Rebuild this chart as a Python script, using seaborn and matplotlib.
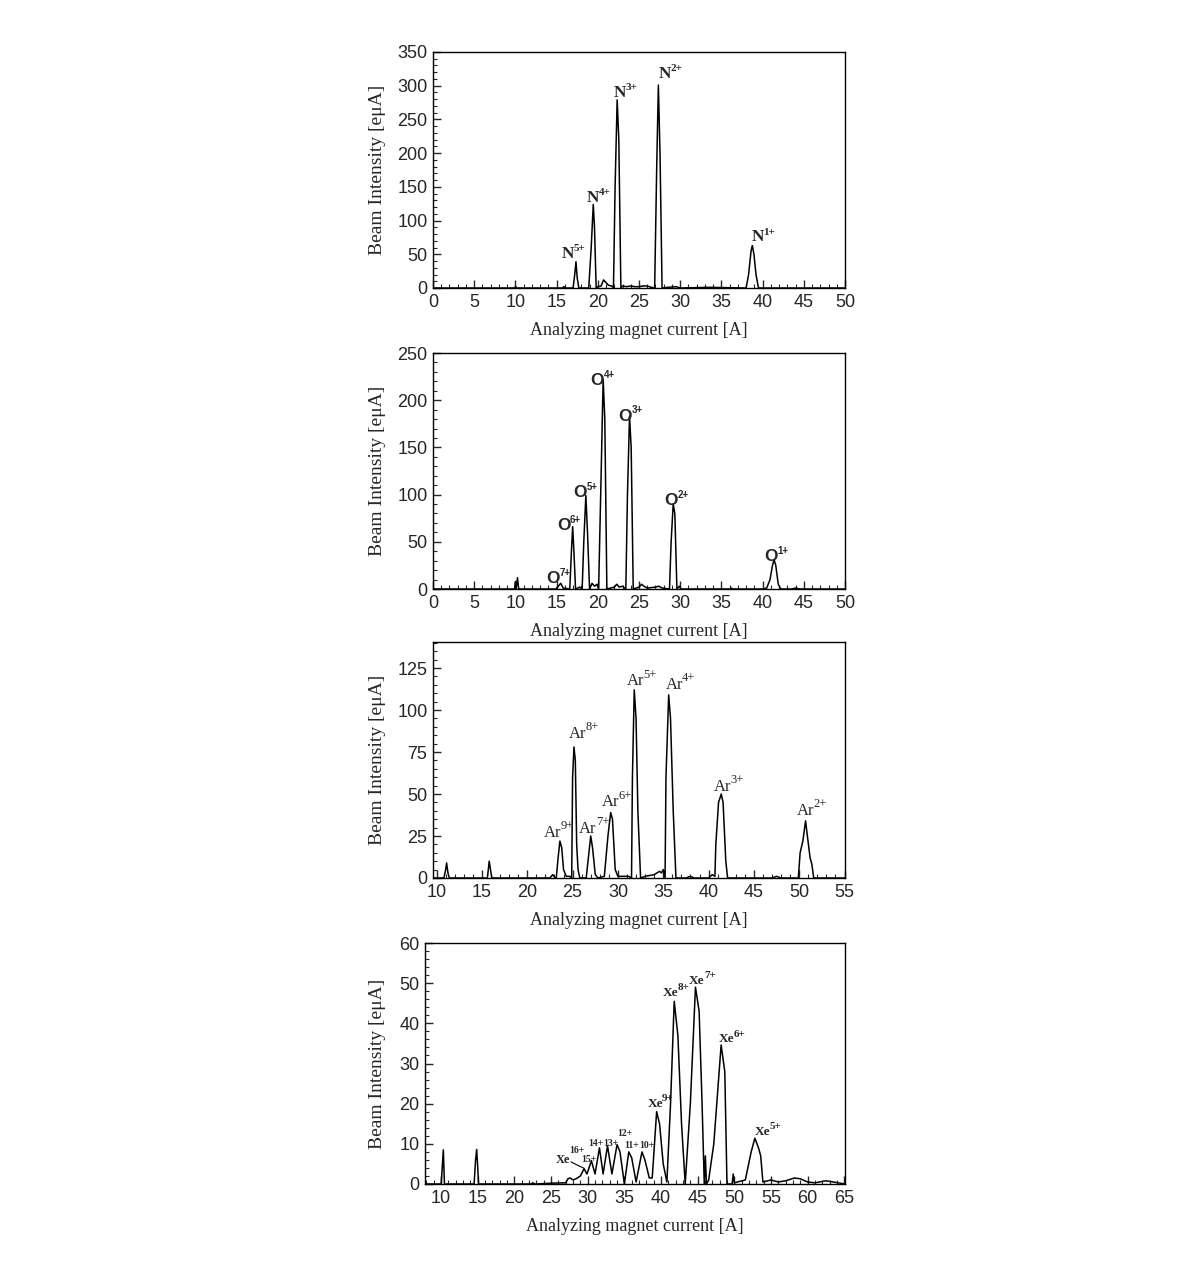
import matplotlib
matplotlib.use("Agg")
import matplotlib.pyplot as plt
import seaborn as sns
import pandas as pd
from matplotlib.ticker import MultipleLocator

# ---------------- data ----------------
n_x = [0, 9.9, 10.0, 10.2, 15.7, 15.9, 16.1, 17.0, 17.2, 17.35, 17.5, 17.7, 18.9, 19.2, 19.45, 19.6, 19.8,
       20.0, 20.4, 20.7, 21.0, 21.3, 21.7, 21.9, 22.1, 22.35, 22.55, 22.8, 23.0, 23.5, 24.0, 24.5, 25.0,
       25.5, 26.0, 26.5, 26.9, 27.15, 27.35, 27.55, 27.8, 28.5, 29.5, 30.0, 33.5, 38.0, 38.3, 38.6, 38.75,
       38.95, 39.2, 39.5, 50]
n_y = [0, 0, 2, 0, 0, 2, 0, 0, 20, 39, 15, 0, 0, 60, 124, 90, 0,
       2, 3, 12, 8, 4, 3, 0, 150, 279, 220, 0, 3, 2, 3, 2, 2,
       3, 3, 1, 0, 180, 301, 200, 0, 1, 2, 0, 1, 0, 20, 55, 63,
       50, 20, 0, 0]

o_x = [0, 9.9, 10.0, 10.1, 10.25, 10.4, 14.9, 15.2, 15.5, 15.8, 16.6, 16.8, 16.95, 17.1, 17.3, 17.8, 18.1,
       18.3, 18.55, 18.75, 19.0, 19.3, 19.6, 19.9, 20.1, 20.4, 20.65, 20.85, 21.1, 22.0, 22.3, 22.6, 23.0,
       23.4, 23.6, 23.85, 24.05, 24.3, 25.0, 25.3, 25.6, 26.0, 27.0, 27.4, 27.8, 28.7, 28.9, 29.15, 29.35,
       29.6, 29.9, 30.1, 36.0, 36.2, 36.4, 40.0, 40.5, 40.9, 41.2, 41.4, 41.6, 41.9, 42.2, 43.5, 44.0, 44.5, 50]
o_y = [0, 0, 8, 0, 12, 0, 0, 3, 6, 1, 0, 40, 66, 40, 0, 2, 0,
       50, 99, 60, 0, 6, 3, 5, 0, 120, 222, 180, 0, 2, 5, 2, 3,
       0, 100, 183, 150, 0, 2, 5, 3, 1, 2, 3, 1, 0, 50, 90, 80,
       0, 3, 0, 0, 1, 0, 0, 1, 10, 25, 31, 25, 5, 0, 0, 1, 0, 0]

ar_x = [9.6, 10.8, 11.0, 11.1, 11.25, 11.4, 15.6, 15.8, 16.0, 16.1, 22.5, 22.8, 23.1, 23.2, 23.4, 23.6,
        23.8, 24.0, 24.3, 24.7, 24.9, 25.0, 25.15, 25.3, 25.45, 25.6, 25.8, 26.5, 26.8, 27.0, 27.2, 27.5,
        27.8, 28.5, 28.9, 29.2, 29.4, 29.7, 30.0, 31.2, 31.5, 31.6, 31.8, 32.0, 32.2, 32.5, 33.0, 34.0,
        34.6, 34.8, 35.0, 35.2, 35.3, 35.6, 35.8, 36.1, 36.4, 37.5, 38.0, 38.4, 40.0, 40.4, 40.7, 40.8,
        41.1, 41.4, 41.6, 41.9, 42.1, 47.0, 47.5, 48.0, 49.9, 50.1, 50.4, 50.7, 50.9, 51.2, 51.4, 51.6, 55.05]
ar_y = [0, 0, 5, 9, 3, 0, 0, 10, 3, 0, 0, 2, 0, 0, 12, 22,
        18, 5, 1, 1, 0, 60, 78, 70, 20, 5, 0, 0, 15, 25, 18, 2,
        0, 1, 25, 39, 35, 5, 1, 1, 0, 60, 112, 95, 40, 0, 1, 2,
        4, 3, 5, 0, 60, 109, 95, 40, 0, 0, 1, 0, 0, 2, 1, 20,
        45, 50, 45, 10, 0, 0, 1, 0, 0, 15, 22, 34, 25, 12, 8, 0, 0]

xe_x = [7.8, 10.0, 10.15, 10.3, 10.45, 14.5, 14.7, 14.85, 15.0, 15.1, 22.3, 22.5, 22.8, 25.0, 27.0, 27.3,
        27.6, 28.0, 28.4, 29.0, 29.5, 29.9, 30.5, 31.0, 31.6, 32.1, 32.7, 33.3, 34.0, 34.4, 35.0, 35.6,
        36.0, 36.6, 37.4, 37.8, 38.4, 38.8, 39.4, 39.8, 40.3, 40.8, 41.3, 41.8, 42.3, 42.8, 43.3, 44.0,
        44.7, 45.2, 45.6, 45.9, 46.05, 46.2, 46.5, 47.2, 48.2, 48.7, 49.0, 49.7, 49.85, 50.0, 51.5, 52.3,
        52.8, 53.3, 53.6, 53.9, 55.0, 56.0, 57.0, 58.2, 59.0, 60.0, 61.0, 62.5, 63.5, 65.1]
xe_y = [0, 0, 4, 8.5, 0, 0, 6, 8.6, 4, 0, 0, 0.3, 0, 0.2, 0.3, 1.3,
        1.5, 1.0, 1.3, 2.0, 3.8, 2.5, 5.8, 2.5, 9.0, 2.5, 9.5, 2.5, 9.8, 8.0, 0, 8.0,
        6.5, 0.5, 8.0, 6.0, 1.5, 1.5, 18.0, 15.0, 5.0, 0.5, 20.0, 45.5, 37.0, 15.0, 0, 20.0,
        49.0, 43.0, 20.0, 0, 7.0, 0, 1.0, 10.0, 34.6, 28.0, 0, 0, 2.5, 0.3, 1.0, 8.0,
        11.4, 9.0, 7.0, 0.5, 1.0, 0.5, 0.8, 1.5, 1.3, 0.5, 0.3, 0.8, 0.5, 0]

# ion labels: (x, y, base, superscript)
n_labels = [(16.4, 50, "N", "5+"), (19.45, 134, "N", "4+"), (22.7, 289, "N", "3+"),
            (28.15, 318, "N", "2+"), (39.4, 75, "N", "1+")]
o_labels = [(14.6, 11, "O", "7+"), (15.9, 67, "O", "6+"), (17.9, 102, "O", "5+"),
            (19.95, 221, "O", "4+"), (23.35, 183, "O", "3+"), (28.9, 94, "O", "2+"),
            (41.0, 34, "O", "1+")]
ar_labels = [(22.8, 27, "Ar", "9+"), (25.5, 86, "Ar", "8+"), (26.7, 29, "Ar", "7+"),
             (29.2, 45, "Ar", "6+"), (31.9, 117, "Ar", "5+"), (36.2, 115, "Ar", "4+"),
             (41.5, 54, "Ar", "3+"), (50.7, 40, "Ar", "2+")]
xe_labels = [(39.2, 20, "Xe", "9+"), (41.3, 47.6, "Xe", "8+"), (44.9, 50.6, "Xe", "7+"),
             (49.0, 36, "Xe", "6+"), (53.8, 13, "Xe", "5+")]
xe_small = [(28.45, 8.3, "16+"), (30.1, 6.1, "15+"), (31.05, 10.1, "14+"),
            (33.1, 10.2, "13+"), (35.0, 12.6, "12+"), (36.0, 9.5, "11+"), (38.1, 9.5, "10+")]
xe_small_base = (26.6, 6.0, "Xe")

# ---------------- style ----------------
sns.set_style("ticks")
plt.rcParams["font.family"] = ["Liberation Sans", "DejaVu Sans"]
plt.rcParams["xtick.direction"] = "in"
plt.rcParams["ytick.direction"] = "in"

SERIF = ["Liberation Serif", "DejaVu Serif"]
SANS = ["Liberation Sans", "DejaVu Sans"]

fig = plt.figure(figsize=(11.9, 12.72), dpi=100)
W, H = 1190.0, 1272.0


def make_ax(left, top, right, bottom):
    return fig.add_axes([left / W, 1 - bottom / H, (right - left) / W, (bottom - top) / H])


axes = [make_ax(433, 52, 845, 288), make_ax(433, 353, 845, 589),
        make_ax(433, 642, 845, 878), make_ax(425, 943, 845, 1184)]

series = [(n_x, n_y), (o_x, o_y), (ar_x, ar_y), (xe_x, xe_y)]
xlims = [(0, 50), (0, 50), (9.6, 55.05), (7.8, 65.1)]
ylims = [(0, 350), (0, 250), (0, 140.5), (0, 60)]
ymin = [10, 10, 5, 2]
yticks = [list(range(0, 351, 50)), list(range(0, 251, 50)), list(range(0, 126, 25)), list(range(0, 61, 10))]
xticks = [list(range(0, 51, 5)), list(range(0, 51, 5)), list(range(10, 56, 5)), list(range(10, 66, 5))]

for i, ax in enumerate(axes):
    xs, ys = series[i]
    df = pd.DataFrame({"current": xs, "intensity": ys})
    sns.lineplot(data=df, x="current", y="intensity", ax=ax, color="black",
                 linewidth=1.1, sort=False, estimator=None)
    ax.set_xlim(*xlims[i])
    ax.set_ylim(*ylims[i])
    ax.set_xticks(xticks[i])
    ax.set_yticks(yticks[i])
    ax.xaxis.set_minor_locator(MultipleLocator(1))
    ax.yaxis.set_minor_locator(MultipleLocator(ymin[i]))
    ax.tick_params(which="major", length=6, width=1, labelsize=13, pad=4,
                   top=False, right=False)
    ax.tick_params(which="minor", length=3, width=0.8, top=False, right=False)
    for lab in ax.get_xticklabels() + ax.get_yticklabels():
        lab.set_family(SANS)
    for sp in ax.spines.values():
        sp.set_visible(True)
        sp.set_linewidth(1.0)
        sp.set_color("black")
    ax.set_xlabel("Analyzing magnet current [A]", family=SERIF, fontsize=13)
    ax.set_ylabel("Beam Intensity [eμA]", family=SERIF, fontsize=14)
    lw = 412.0 if i < 3 else 420.0
    lh = 236.0 if i < 3 else 241.0
    ax.yaxis.set_label_coords(-47.0 / lw if i < 3 else -39.0 / lw, 0.5)
    ax.xaxis.set_label_coords(0.5, -34.0 / lh)


def ion(ax, x, y, base, sup, fam, weight, bsize, ssize):
    t = ax.text(x, y, base, ha="center", va="center", family=fam, fontweight=weight, fontsize=bsize)
    ax.annotate(sup, xy=(0.95, 0.55), xycoords=t, ha="left", va="bottom",
                family=fam, fontweight=weight, fontsize=ssize)


for x, y, b, s in n_labels:
    ion(axes[0], x, y, b, s, SERIF, "bold", 12.5, 8)
for x, y, b, s in o_labels:
    ion(axes[1], x, y, b, s, SANS, "bold", 12.5, 7)
for x, y, b, s in ar_labels:
    ion(axes[2], x, y, b, s, SERIF, "normal", 12, 9)
for x, y, b, s in xe_labels:
    ion(axes[3], x, y, b, s, SERIF, "bold", 9.5, 8)
bx, by, bs = xe_small_base
axes[3].text(bx, by, bs, ha="center", va="center", family=SERIF, fontweight="bold", fontsize=9)
for x, y, s in xe_small:
    axes[3].text(x, y, s, ha="center", va="center", family=SERIF, fontweight="bold", fontsize=7)
axes[3].plot([27.7, 29.5], [5.5, 3.9], color="black", linewidth=0.8)

fig.savefig("out.png", dpi=100)
